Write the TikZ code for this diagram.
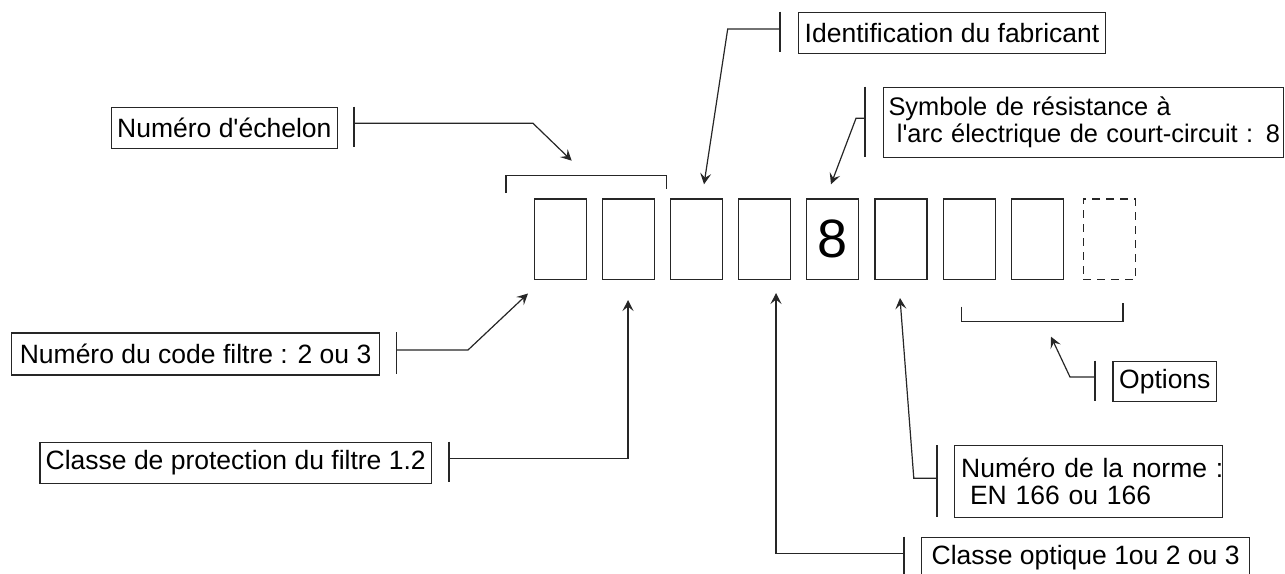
\documentclass[tikz,border=0pt]{standalone}
\usepackage{fontspec}
\setmainfont{Liberation Sans}
\usetikzlibrary{arrows.meta}
\begin{document}
\begin{tikzpicture}[x=0.5pt,y=-0.5pt,
  ln/.style={draw=black!85,line width=0.6pt},
  lbl/.style={ln,anchor=north west,inner sep=0pt,minimum height=20.4pt,font=\fontsize{13.25}{13.5}\selectfont},
  lbltwo/.style={ln,anchor=north west,inner xsep=3.3pt,inner ysep=0pt,align=left,font=\fontsize{13.25}{13.6}\selectfont},
  cell/.style={ln,anchor=north west,minimum width=26pt,minimum height=40.35pt,inner sep=0pt},
  arr/.style={ln,-{Stealth[length=5.5pt,width=5.5pt,inset=2.2pt]}},
  tick/.style={ln}]
\useasboundingbox (0,0) rectangle (1285,573);

% cells
\node[cell] (c1) at (534,198.3) {};
\node[cell] (c2) at (601.7,198.3) {};
\node[cell] (c3) at (670,198.3) {};
\node[cell] (c4) at (737.7,198.3) {};
\node[cell] (c5) at (806,198.3) {\fontsize{27}{27}\selectfont 8};
\node[cell] (c6) at (874.3,198.3) {};
\node[cell] (c7) at (942.7,198.3) {};
\node[cell] (c8) at (1010.7,198.3) {};
\node[cell,dash pattern=on 4pt off 3pt] (c9) at (1082.7,198.3) {};

% brackets
\coordinate (bA) at (506,193);
\coordinate (bB) at (506,175.5);
\coordinate (bC) at (666.5,175.5);
\coordinate (bD) at (666.5,189);
\draw[ln] (bA) -- (bB) -- (bC) -- (bD);
\coordinate (oA) at (961.7,306.7);
\coordinate (oB) at (961.7,321.7);
\coordinate (oC) at (1123,321.7);
\coordinate (oD) at (1123,303);
\draw[ln] (oA) -- (oB) -- (oC) -- (oD);

% labels
\node[lbl,minimum width=113pt] (ech) at (110.7,106.7) {Numéro d\textquotesingle échelon};
\node[lbl,minimum width=153.7pt] (ident) at (797.7,11.7) {Identification du fabricant};
\node[lbltwo,inner xsep=2.6pt,text width=195pt,minimum height=35pt,font=\fontsize{12.7}{13.8}\selectfont] (sym) at (882.7,86.5)
  {\mbox{Symbole de résistance à}\\\mbox{\ l\textquotesingle arc électrique de court-circuit : 8}};
\node[lbl,minimum width=184pt,minimum height=21pt] (code) at (11,332.3) {Numéro du code filtre : 2 ou 3};
\node[lbl,minimum width=195.8pt] (prot) at (39.3,441.7) {Classe de protection du filtre 1.2};
\node[lbl,minimum width=51.8pt,minimum height=20.2pt] (opt) at (1112.4,360.7) {Options};
\node[lbltwo,text width=127.4pt,minimum height=36pt] (norme) at (954,445)
  {\mbox{Numéro de la norme :}\\\mbox{\ EN 166 ou 166}};
\node[lbl,minimum width=164pt] (optq) at (921,536.7) {Classe optique 1ou 2 ou 3};

% echelon
\coordinate (eT1) at (354,106.7); \coordinate (eT2) at (354,147.3);
\coordinate (eM) at (354,123.3); \coordinate (eK) at (533,123.3); \coordinate (eP) at (571.7,160.7);
\draw[tick] (eT1) -- (eT2);
\draw[arr] (eM) -- (eK) -- (eP);
% identification
\coordinate (iT1) at (780,11.7); \coordinate (iT2) at (780,52.3);
\coordinate (iM) at (780,29); \coordinate (iK) at (727.7,29); \coordinate (iP) at (704,184.3);
\draw[tick] (iT1) -- (iT2);
\draw[arr] (iM) -- (iK) -- (iP);
% symbole
\coordinate (sT1) at (865,86.5); \coordinate (sT2) at (865,156.5);
\coordinate (sM) at (865,118.3); \coordinate (sK) at (856,118.3); \coordinate (sP) at (831,184.3);
\draw[tick] (sT1) -- (sT2);
\draw[arr] (sM) -- (sK) -- (sP);
% code filtre
\coordinate (kT1) at (396.7,332.3); \coordinate (kT2) at (396.7,374.3);
\coordinate (kM) at (396.7,350); \coordinate (kK) at (468,350); \coordinate (kP) at (528,293.5);
\draw[tick] (kT1) -- (kT2);
\draw[arr] (kM) -- (kK) -- (kP);
% protection
\coordinate (pT1) at (449,441.7); \coordinate (pT2) at (449,482.3);
\coordinate (pM) at (449,458.3); \coordinate (pK) at (628,458.3); \coordinate (pP) at (628,300);
\draw[tick] (pT1) -- (pT2);
\draw[arr] (pM) -- (pK) -- (pP);
% classe optique
\coordinate (qT1) at (904,536.7); \coordinate (qT2) at (904,577.3);
\coordinate (qM) at (904,553.3); \coordinate (qK) at (776,553.3); \coordinate (qP) at (776,293);
\draw[tick] (qT1) -- (qT2);
\draw[arr] (qM) -- (qK) -- (qP);
% norme
\coordinate (nT1) at (937,445); \coordinate (nT2) at (937,517);
\coordinate (nM) at (937,478.3); \coordinate (nK) at (913.8,478.3); \coordinate (nP) at (900,298);
\draw[tick] (nT1) -- (nT2);
\draw[arr] (nM) -- (nK) -- (nP);
% options
\coordinate (xT1) at (1095,360.7); \coordinate (xT2) at (1095,401);
\coordinate (xM) at (1095,377); \coordinate (xK) at (1070,377); \coordinate (xP) at (1051,336.7);
\draw[tick] (xT1) -- (xT2);
\draw[arr] (xM) -- (xK) -- (xP);
\end{tikzpicture}
\end{document}
